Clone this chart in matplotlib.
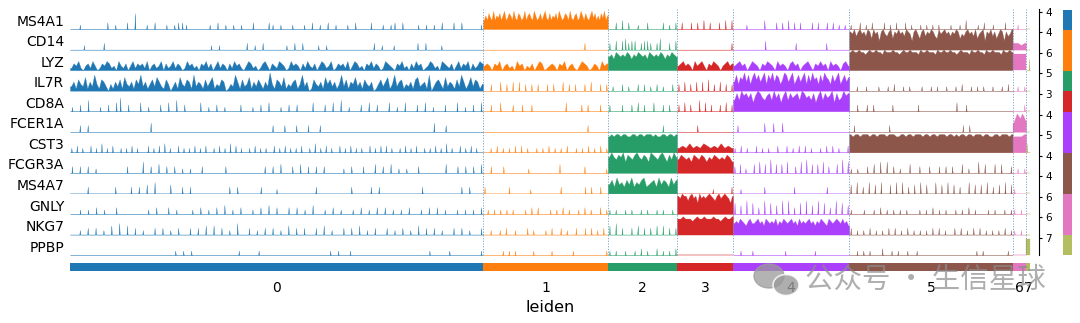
import matplotlib
matplotlib.use('Agg')
import matplotlib.pyplot as plt
from matplotlib.patches import Ellipse

# ---------------- data ----------------
genes = ['MS4A1', 'CD14', 'LYZ', 'IL7R', 'CD8A', 'FCER1A', 'CST3', 'FCGR3A',
         'MS4A7', 'GNLY', 'NKG7', 'PPBP']
gene_max = [4, 4, 6, 5, 3, 4, 5, 4, 4, 6, 6, 7]
clusters = ['0', '1', '2', '3', '4', '5', '6', '7']
cluster_sizes = [1135, 343, 190, 154, 319, 449, 37, 11]
cluster_colors = ['#1f77b4', '#ff7f0e', '#279e68', '#d62728', '#aa40fc',
                  '#8c564b', '#e377c2', '#b5bd61']
gene_group = [0, 1, 1, 2, 3, 4, 4, 5, 5, 6, 6, 7]
group_label = 'leiden'

# expression profiles, one string per cluster.
# '.' = 0 ; '1'..'9' = isolated cell spike ; 'a'..'i' = contiguous cells,
# level 1..9 on a 0..9 scale of the track height
MS4A1 = ["..2......3.2..3.7..2.3..2.2332.....2.3.2.2.2..3...32.2..2..2.3.2.3.2..2.3...3..2.23.3...2.2.2.3..3.3....2",
         "dfdgedhdfegdfhdegfdhedgfdehdfgedhfdegdfhedgdfegdhfdegfdhedfgdehfdgedfhegdfdgehdf",
         "..3.4.3..2..3....3.2.3",
         ".3..3.3.4.3..3.4.4",
         "....2.....4...3.3.4.3.3...3.3..3.3.2.2.",
         "2..3.2.3...3.2.3..3.2..2.2.2.2...2..2.4...2.3..2...3..",
         ".2..", ".."]
CD14 = ["...2....3..........................2.2......3.2.3.....2.3.3...2.2...........3.2..2.....3.3...2..........",
        "................................3.......",
        "3.4.45344.3443.35..3.4",
        ".................3",
        "..........4.........3.........3.......",
        "hgifhighfiheighdhigfhiehgighfihgdhigehifhgihfeighighfhgihegfhighfieghidhgifhegihdhfgi",
        "ccbc", ".."]
LYZ = ["acbda.bcadb.acbdcab.dbac.bdacbcad.bcabd.cabdacb.adbcab.cbdac.bdacb.cadbca.bdcab.acdb.cbadcb.adbcb.cadbac.bdcabd.acbcad.bdcab.cbdacb.adcba.cbdab.cadbc.abdcab.dcbac.bdacbd.cabdc",
       "bcb.cbd.bcab.dbc.bac.bdc.abcb.cbd.bca.bdcb.acb.dbc",
       "fgehgfgfhgegfhgfgehgfgfhgegfhgf",
       "bcdbcb.dbcdb.cbdcb.bcdbc",
       "bcdbc.bdcb.cbdcb.dbcb.cdbc.bcdb.cbdbc.dbcb.cdb",
       "hihhihhghihhihhgihhhihhghihhihhhgihhihhhgihhihhihhghihhhgihhihhgihhihhhgihhih",
       "gggg", ".5"]
IL7R = ["bdaecbfadbgcaedb.cadbeafcbdaecgbdacebfdbaec.bdafcbedagbdcaebdfacbed.acbgdaebcfadbecadbhcaedbfacbdeacgbd.aecbdafcebdacgbeadcfbdaecbd.acebdfacgbdeacbdaefbcdag.bdecafbdcaebgdacfbedac",
        "..3..4.3.4.4.3.3.3..3.3..4.3.3..3.4..3.3",
        ".2..3.2..3.3.2.3.2..3.",
        "3.4.3.4.4.5.3.4.3.3",
        "dgcfehdgcfhegdfhcgehdgfcehgdfhcegdfhcgdhefcgdhfecgdfhcegdf",
        "..2..2...2..2.3..2.2...2..2.2..2..2.3..2.2.2..2..2.3.",
        ".2.2", ".."]
CD8A = ["2.3.5..2.3.46.3..4.2..3.4.5.3...4.2.3.2...3..2.3.4..2.3.3...4..3.4.5.2..3.4.3..4.2.4..3.4.2..3..4.2.3.4",
        "..3..4...3..3..3..........4....3.3...3..",
        "3...3..3.4.3..4..3.3..",
        "3.4.3..5.4.3..3.4.3",
        "eheighfhdgihfegheifhdgiehfgheihfgehdgiehfgidhefigh",
        "..3..3.3.....3.......3...........4..3..............",
        "...3", ".."]
FCER1A = ["..3.3...............4..............................3..3..3..3..3............................4..3.........",
          ".................................3......",
          ".................3....",
          "......3...........",
          ".3........4..4..4......................",
          ".3..........3......................3.3.............",
          "dfhgfhge", ".."]
CST3 = ["2.3.2..3.2.4.2.3..2.2.3.2...3.2.3.4.2..3.2.2.3.2.3..2.3.2.4.3.2..2.3.2.2..3.2.3.2.2.3..2.4.2.3.2..3.2.3.2.2..3.2.3.3.2..2.3.2.3..2.2.3.2.4.2..3.2.3.2..",
        "..2.3.2.2.3.3.2..2.2.3.2.2.3..2.2.3.2.3.2",
        "ghghhghhgghhghhghhhghgghhghhgh",
        "bcbdbcbdcbcbdbcb",
        "2.3.2..3.2.2..3..3.2.3.3.2..2.3.3.2..3",
        "hghhghhhghhghhhghhhgghhghhghhhghhghhghhhghhghghhghhghhhghhgghhghhhgh",
        "gggh", "4."]
FCGR3A = ["3.3.3.2.......3...5.3.4.3.3.2.2..3.....3.........3.3.4..3.4.3.3.3....2.3..3..4.3.4.2.2..3......4..3.3.3.4",
          "..3...3.......2.........4.......3......2",
          "gigfhgiehgfhigfhgeihgfhigehfig",
          "fhgfgehgfhgegfhgfgfhge",
          "3.4.2..4.5.4.6.4.4.5..3.5.6.4.4.5.3..4.6.5",
          "2.2..3.4.5.5.3.2..4..3..3..3.3.3..4.2..5.4..4.4..3",
          ".2.2", ".."]
MS4A7 = ["....3......3...3.3.4.5...4..3.3.........3.3.....3...2.........3........3....3.3..........3.........3.3...",
         "3.......3......2.........3.......3.3..3..",
         "dfcgdecfdgcedfgcdefcgdfecgdf",
         "...........2.....3",
         "..2.......3.........3..........3.......",
         "4.5.3.5.4.5..4.5.5.3.4.5.4..5.4.5.4.3..5.4.4.5.3.4.5.4",
         "2...", ".."]
GNLY = ["..2.2.3.2..3.......2.3..3.2...2.3.2.3.4.2.3..2.3.4.3..3.3.2.4..2.3.2..2.3.2.3.3.2.2.3..2.3.3.2..2.2.2.3",
        ".2.2.2.2.2...2.3.3...2.2.3.2..2.3.2..3.2",
        "2.2..2.2..2.2..2.2..2.",
        "hgihhfhigheighghihgfhighihgeh",
        "5.4.6.5.3.6.5.4.6.6.3.5.6.4.6.5.3.6.5.4",
        "2...2..2.3.2.2.2.2...2.2.3.2.2..2.2.3.2...2.2..2.2",
        "2.2.", ".."]
NKG7 = ["..2.3.3.2.4.5.4.3.2..3.3.2.3..3.3.4.4.3.2.5..3.2.3.3.2.4.3.3..3.4.2..3.3.4.2.3..3.2.3.2.4.3.3.2..3.3.2..3",
        "..2..2.3..2...3.2...2.3..3.2..3..3.3.2.3.",
        "4.5.3..3.4.3.3.4.4.3.3",
        "gghgggfghgghggghggfghggh",
        "efegfedfgeefgefdgfefegdfegfefgefdgefefgefdfegfedgfefgfegefd",
        "3.2.2.3.2.2.3.3.2.3.2.2.2.3.3.2..3.3.2.3.3.2.2.2.3.2",
        "2.2.", ".."]
PPBP = ["..........................2.2.2...........2....2.................2.2..2...................2....2.......2",
        "......2.2.2.....2.....2......2..........2",
        "2.2..2..2.3.2..3.2.2.3",
        "..................",
        "..2...2..........2.........2...........",
        "..2.2.2...3..2.2..2..2..................2.2.......2.",
        "....", "gg"]

profiles = [MS4A1, CD14, LYZ, IL7R, CD8A, FCER1A, CST3, FCGR3A, MS4A7, GNLY, NKG7, PPBP]
tick_frac = 0.84   # labelled maximum sits a little below the top of each track

# ---------------- helpers ----------------
def cluster_profile(code, start, size, top, hw=1.5):
    n = len(code)
    w = size / n
    xs, ys = [start], [0.0]
    for k, ch in enumerate(code):
        c = start + (k + 0.5) * w
        if ch == '.':
            xs.append(c); ys.append(0.0)
        elif ch.isdigit():
            v = int(ch) / 9 * top
            xs += [c - hw, c, c + hw]; ys += [0.0, v, 0.0]
        else:
            v = (ord(ch) - 96) / 9 * top
            if k == 0:
                xs.append(start); ys.append(v)
            xs.append(c); ys.append(v)
            if k == n - 1:
                xs.append(start + size); ys.append(v)
    xs.append(start + size); ys.append(0.0)
    return xs, ys

# ---------------- layout ----------------
W, H = 1080, 323
fig = plt.figure(figsize=(W / 100, H / 100), dpi=100)
left_px, right_px = 70, 1039
data_end_px = 1030
top_px, row_h = 8.5, 20.55
total = sum(cluster_sizes)
xmax = total * (right_px - left_px) / (data_end_px - left_px)

starts = []
s = 0
for n in cluster_sizes:
    starts.append(s)
    s += n
bounds = starts[1:]

def fig_rect(x0, y0, x1, y1):
    return [x0 / W, 1 - y1 / H, (x1 - x0) / W, (y1 - y0) / H]

for i, g in enumerate(genes):
    y0 = top_px + row_h * i
    top = gene_max[i] / tick_frac
    ax = fig.add_axes(fig_rect(left_px, y0, right_px, y0 + row_h))
    for j in range(len(clusters)):
        xs, ys = cluster_profile(profiles[i][j], starts[j], cluster_sizes[j], top)
        ax.fill_between(xs, 0, ys, color=cluster_colors[j], lw=0.2)
        ax.plot([starts[j], starts[j] + cluster_sizes[j]], [0, 0],
                color=cluster_colors[j], lw=0.6, alpha=0.4)
    for b in bounds:
        ax.axvline(b, color='#5b8cc0', lw=0.7, ls=(0, (1.2, 1.6)), alpha=0.8)
    ax.set_xlim(0, xmax)
    ax.set_ylim(0, top)
    for sp in ['top', 'bottom', 'left']:
        ax.spines[sp].set_visible(False)
    ax.spines['right'].set_linewidth(0.8)
    ax.set_xticks([])
    ax.yaxis.tick_right()
    ax.set_yticks([gene_max[i]])
    ax.set_yticklabels([str(gene_max[i])])
    ax.tick_params(axis='y', labelsize=7.5, length=2.5, width=0.8, pad=2)
    ax.text(-0.006, 0.02, g, transform=ax.transAxes, ha='right', va='bottom',
            fontsize=10)
    ax.patch.set_alpha(0)

# bottom category bar
axb = fig.add_axes(fig_rect(left_px, 263, right_px, 271))
axb.barh(0, cluster_sizes, left=starts, height=1, color=cluster_colors, align='center')
axb.set_xlim(0, xmax)
axb.set_ylim(-0.5, 0.5)
for sp in axb.spines.values():
    sp.set_visible(False)
axb.set_yticks([])
axb.set_xticks([st + n / 2 for st, n in zip(starts, cluster_sizes)])
axb.set_xticklabels(clusters, fontsize=10)
axb.tick_params(axis='x', length=0, pad=7)
axb.set_xlabel(group_label, fontsize=11.5, labelpad=1)
axb.xaxis.set_label_coords((550 - left_px) / (right_px - left_px), -3.6)

# right group colour bar
axg = fig.add_axes(fig_rect(1063, top_px + 1, 1072, top_px + row_h * len(genes)))
for i, grp in enumerate(gene_group):
    axg.bar(0, 1, bottom=len(genes) - 1 - i, width=1, color=cluster_colors[grp], align='edge')
axg.set_xlim(0, 1)
axg.set_ylim(0, len(genes))
axg.axis('off')

# watermark overlay
axw = fig.add_axes([0, 0, 1, 1], zorder=10)
axw.set_xlim(0, W)
axw.set_ylim(H, 0)
axw.axis('off')
axw.add_patch(Ellipse((769, 276), 30, 24, color='#9a9a9a', alpha=0.75))
axw.add_patch(Ellipse((786, 285), 26, 21, facecolor='#9a9a9a', edgecolor='white', lw=1.2, alpha=0.8))
axw.text(805, 280, '公众号 · 生信星球', ha='left', va='center', fontsize=20.5,
         color='#8c8c8c', alpha=0.7, family=['Noto Sans CJK SC', 'DejaVu Sans'])

fig.savefig('out.png', dpi=100)
